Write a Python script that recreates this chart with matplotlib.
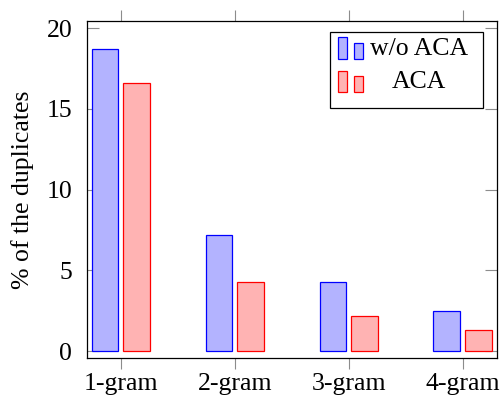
import matplotlib
matplotlib.use("Agg")
import matplotlib.pyplot as plt
from matplotlib.patches import Rectangle
import numpy as np

categories = ["1-gram", "2-gram", "3-gram", "4-gram"]
wo_aca = [18.7, 7.2, 4.3, 2.5]
aca = [16.6, 4.3, 2.2, 1.3]
series_labels = ["w/o ACA", "ACA"]
yticks = [0, 5, 10, 15, 20]

plt.rcParams['font.family'] = ['Liberation Serif', 'DejaVu Serif']
plt.rcParams['mathtext.fontset'] = 'stix'
FS = 18.5

fig = plt.figure(figsize=(5.03, 4.00), dpi=100)
ax = fig.add_axes([0.1724, 0.1043, 0.8151, 0.8433])

x = np.arange(1, len(categories) + 1)
off = 0.139
w = 0.234
blue_fill, blue_edge = "#B3B3FF", "#0000FF"
red_fill, red_edge = "#FFB3B3", "#FF0000"
ax.bar(x - off, wo_aca, width=w, color=blue_fill, edgecolor=blue_edge, linewidth=0.9, zorder=2)
ax.bar(x + off, aca, width=w, color=red_fill, edgecolor=red_edge, linewidth=0.9, zorder=2)

ax.set_xlim(0.7, 4.3)
ax.set_ylim(-0.45, 20.45)
ax.set_xticks(x)
ax.set_xticklabels(categories, fontsize=FS)
ax.set_yticks(yticks)
ax.set_yticklabels([str(t) for t in yticks], fontsize=FS)

ax.tick_params(axis='x', direction='out', length=8, width=0.8, color='#8c8c8c',
               top=True, bottom=True, pad=2.5)
ax.tick_params(axis='y', direction='in', length=8.3, width=0.8, color='#8c8c8c',
               left=True, right=True, pad=10.5)
for s in ax.spines.values():
    s.set_linewidth(0.9)
    s.set_color('black')

ax.set_ylabel("% of the duplicates", fontsize=FS, labelpad=9)

# legend (pgfplots style, drawn in axes coordinates)
T = ax.transAxes
ax.add_patch(Rectangle((0.593, 0.741), 0.374, 0.2255, transform=T,
                       facecolor='white', edgecolor='black', linewidth=0.9, zorder=5))
entries = [(blue_fill, blue_edge, series_labels[0], 0.8865, 0.0652, 0.0492, 0.918),
           (red_fill, red_edge, series_labels[1], 0.7886, 0.0641, 0.0484, 0.818)]
for fc, ec, lab, yb, h1, h2, ty in entries:
    ax.add_patch(Rectangle((0.6137, yb), 0.0219, h1, transform=T, facecolor=fc,
                           edgecolor=ec, linewidth=0.9, zorder=6))
    ax.add_patch(Rectangle((0.6527, yb), 0.0219, h2, transform=T, facecolor=fc,
                           edgecolor=ec, linewidth=0.9, zorder=6))
    ax.text(0.811, ty, lab, transform=T, ha='center', va='center', fontsize=FS, zorder=7)

fig.savefig("out.png", dpi=100)
